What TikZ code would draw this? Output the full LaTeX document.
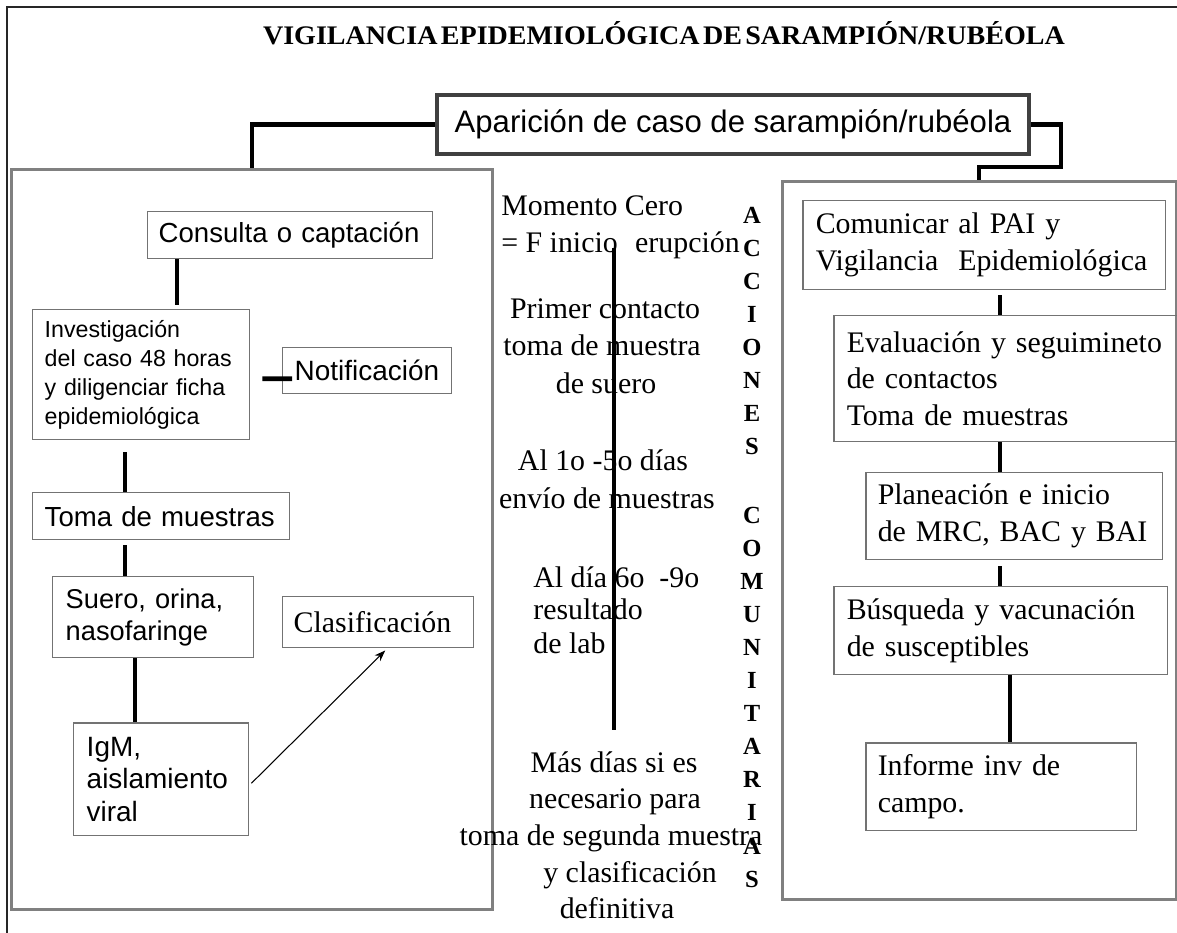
\documentclass[tikz,border=0pt]{standalone}
\usepackage{fontspec}
\usepackage{graphicx}
\setmainfont{Liberation Serif}
\newfontfamily\sansf{Liberation Sans}
\usetikzlibrary{arrows.meta}
\begin{document}
\begin{tikzpicture}[x=0.02cm,y=-0.02cm,
  frame/.style={draw=black!85, line width=1.3pt},
  bigbox/.style={draw=black!50, line width=1.7pt, anchor=north west, inner sep=0pt},
  sbox/.style={draw=black!55, line width=0.85pt, anchor=north west, align=left, inner ysep=0pt},
  sanstxt/.style={font=\sansf\fontsize{15.7}{18.2}\selectfont},
  seriftxt/.style={font=\fontsize{17}{21}\selectfont},
  conn/.style={draw=black, line width=2.8pt},
  topconn/.style={draw=black, line width=2.3pt},
  thinarrow/.style={draw=black, line width=0.6pt, -{Stealth[length=0.22cm,width=0.16cm]}},
  midtxt/.style={font=\fontsize{17}{21}\selectfont, inner sep=0pt},
  vlet/.style={font=\bfseries\fontsize{14}{14}\selectfont, inner sep=0pt, anchor=base},
]
\useasboundingbox (0,0) rectangle (1177,933);

% outer frame (top and left sides)
\draw[frame] (7,940) -- (7,7) -- (1185,7);

% title, set in a condensed bold serif
\node[anchor=base, inner sep=0pt] (title) at (664,45)
  {\resizebox{16.04cm}{0.46cm}{\bfseries\fontsize{15.3}{15.3}\selectfont\spaceskip=0.12em\relax VIGILANCIA EPIDEMIOLÓGICA DE SARAMPIÓN/RUBÉOLA}};

% main case box
\node[draw=black!75, line width=2.55pt, minimum width=11.84cm, minimum height=1.18cm, inner sep=0pt,
      font=\sansf\fontsize{17.7}{17.7}\selectfont] (apar) at (733,124.5) {Aparición de caso de sarampión/rubéola};

% two large panels
\node[bigbox, minimum width=9.62cm, minimum height=14.80cm] (leftbig) at (10,168) {};
\node[bigbox, minimum width=7.88cm, minimum height=14.36cm] (rightbig) at (781,180) {};

% time line texts
\node[midtxt, anchor=base west] (m1a) at (501,215) {Momento Cero};
\node[midtxt, anchor=base west] (m1b) at (501,252) {= F inicio\,\, erupción};
\node[midtxt, anchor=base] (m2a) at (605,318) {Primer contacto};
\node[midtxt, anchor=base] (m2b) at (602,355) {toma de muestra};
\node[midtxt, anchor=base] (m2c) at (606,393) {de suero};
\node[midtxt, anchor=base] (m3a) at (603,470) {Al 1o -5o días};
\node[midtxt, anchor=base] (m3b) at (607,508) {envío de muestras};
\node[midtxt, anchor=base west] (m4a) at (533,587) {Al día 6o\ \ -9o};
\node[midtxt, anchor=base west] (m4b) at (533,619) {resultado};
\node[midtxt, anchor=base west] (m4c) at (533,653) {de lab};
\node[midtxt, anchor=base] (m5a) at (614,772) {Más días si es};
\node[midtxt, anchor=base] (m5b) at (615,808) {necesario para};
\node[midtxt, anchor=base] (m5c) at (611,845) {toma de segunda muestra};
\node[midtxt, anchor=base] (m5d) at (630,882) {y clasificación};
\node[midtxt, anchor=base] (m5e) at (617,918) {definitiva};

% vertical caption
\foreach \l [count=\i from 0] in {A,C,C,I,O,N,E,S}
  \node[vlet] (acc\i) at (752,{223+33*\i}) {\l};
\foreach \l [count=\i from 0] in {C,O,M,U,N,I,T,A,R,I,A,S}
  \node[vlet] (comu\i) at (752,{523+33.1*\i}) {\l};

% time line
\coordinate (tltop) at (614,248);
\coordinate (tlbot) at (614,730);
\draw[conn] (tltop) -- (tlbot);

% left panel boxes
\node[sbox, sanstxt, minimum width=5.70cm, minimum height=0.94cm, text width=5.26cm, inner xsep=0.22cm]
  (cons) at (147,211) {Consulta~o~captación};
\node[sbox, font=\sansf\fontsize{13.2}{16.4}\selectfont, minimum width=4.34cm, minimum height=2.60cm, text width=3.86cm, inner xsep=0.24cm]
  (inv) at (32,309) {Investigación\\del~caso~48~horas\\y~diligenciar~ficha\\epidemiológica};
\node[sbox, font=\sansf\fontsize{15.9}{15.9}\selectfont, minimum width=3.38cm, minimum height=0.92cm, text width=2.90cm, inner xsep=0.24cm]
  (notif) at (282,347) {Notificación};
\node[sbox, sanstxt, minimum width=5.14cm, minimum height=0.94cm, text width=4.66cm, inner xsep=0.24cm]
  (toma) at (32,492) {Toma~de~muestras};
\node[sbox, font=\sansf\fontsize{15.5}{18.1}\selectfont, minimum width=4.02cm, minimum height=1.62cm, text width=3.50cm, inner xsep=0.26cm]
  (suero) at (52,576) {Suero,~orina,\\nasofaringe};
\node[sbox, font=\sansf\fontsize{15.9}{18.4}\selectfont, minimum width=3.50cm, minimum height=2.26cm, text width=2.98cm, inner xsep=0.26cm]
  (igm) at (73,722) {IgM,\\aislamiento\\viral};
\node[sbox, seriftxt, minimum width=3.82cm, minimum height=1.02cm, text width=3.38cm, inner xsep=0.22cm]
  (clas) at (282,596) {Clasificación};

% right panel boxes
\node[sbox, seriftxt, minimum width=7.26cm, minimum height=1.78cm, text width=6.74cm, inner xsep=0.26cm]
  (com) at (802,200) {Comunicar~al~PAI~y\\Vigilancia~~Epidemiológica};
\node[sbox, seriftxt, minimum width=6.90cm, minimum height=2.52cm, text width=6.38cm, inner xsep=0.26cm]
  (eval) at (833,315) {Evaluación~y~seguimineto\\de~contactos\\Toma~de~muestras};
\node[sbox, seriftxt, minimum width=5.94cm, minimum height=1.74cm, text width=5.46cm, inner xsep=0.24cm]
  (plan) at (865,472) {Planeación~e~inicio\\de~MRC,~BAC~y~BAI};
\node[sbox, seriftxt, minimum width=6.68cm, minimum height=1.76cm, text width=6.16cm, inner xsep=0.26cm]
  (busq) at (833,586) {Búsqueda~y~vacunación\\de~susceptibles};
\node[sbox, seriftxt, minimum width=5.42cm, minimum height=1.76cm, text width=4.94cm, inner xsep=0.24cm]
  (inf) at (865,742) {Informe~inv~de\\campo.};

% connectors from the case box to the panels
\draw[topconn] (apar.west) -| (leftbig.north);
\draw[topconn] (apar.east) -- ++(30,0) |- ([shift={(0,-13)}]rightbig.north) -- (rightbig.north);

% left panel connectors
\draw[conn, shorten >=0.08cm] ([shift={(30,0)}]cons.south west) -- ([shift={(145,0)}]inv.north west);
\draw[conn, shorten <=0.24cm] ([shift={(93,0)}]inv.south west) -- ([shift={(93,0)}]toma.north west);
\draw[conn, shorten <=0.1cm] ([shift={(93,0)}]toma.south west) -- ([shift={(73,0)}]suero.north west);
\draw[conn] ([shift={(83,0)}]suero.south west) -- ([shift={(62,0)}]igm.north west);
\draw[conn] ([shift={(12,4)}]inv.east) -- ([shift={(10,8)}]notif.west);
\draw[thinarrow] ([shift={(2,4)}]igm.east) -- ([shift={(7,2)}]clas.south);

% right panel connectors
\draw[conn, shorten <=0.1cm] ([shift={(198,0)}]com.south west) -- ([shift={(167,0)}]eval.north west);
\draw[conn] ([shift={(167,0)}]eval.south west) -- ([shift={(135,0)}]plan.north west);
\draw[conn, shorten <=0.12cm] ([shift={(135,0)}]plan.south west) -- ([shift={(167,0)}]busq.north west);
\draw[conn] ([shift={(177,0)}]busq.south west) -- ([shift={(145,0)}]inf.north west);
\end{tikzpicture}
\end{document}
